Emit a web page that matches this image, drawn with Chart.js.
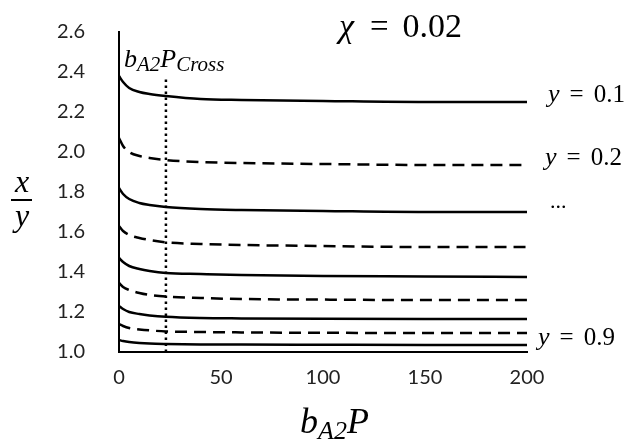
<!DOCTYPE html>
<html>
<head>
<meta charset="utf-8">
<script src="https://cdn.jsdelivr.net/npm/chart.js@4.4.1/dist/chart.umd.min.js"></script>
<style>
  html, body { margin: 0; padding: 0; background: #fff; }
</style>
</head>
<body>
<canvas id="chart" width="632" height="442"></canvas>
<script>
const bP = [0, 2, 5, 10, 15, 23, 40, 60, 100, 150, 200];

// x/y for y = 0.1 ... 0.9 (odd = solid, even = dashed)
const y01 = [2.38, 2.35, 2.32, 2.30, 2.29, 2.28, 2.265, 2.26, 2.255, 2.25, 2.25];
const y02 = [2.07, 2.03, 2.00, 1.98, 1.97, 1.96, 1.95, 1.945, 1.94, 1.935, 1.935];
const y03 = [1.82, 1.79, 1.765, 1.745, 1.735, 1.725, 1.715, 1.71, 1.705, 1.70, 1.70];
const y04 = [1.63, 1.605, 1.585, 1.57, 1.56, 1.548, 1.54, 1.535, 1.53, 1.525, 1.525];
const y05 = [1.47, 1.45, 1.43, 1.415, 1.405, 1.395, 1.39, 1.385, 1.38, 1.378, 1.375];
const y06 = [1.345, 1.325, 1.31, 1.295, 1.285, 1.277, 1.27, 1.265, 1.262, 1.26, 1.26];
const y07 = [1.23, 1.215, 1.20, 1.19, 1.183, 1.176, 1.17, 1.168, 1.166, 1.165, 1.165];
const y08 = [1.14, 1.13, 1.12, 1.113, 1.108, 1.103, 1.10, 1.098, 1.096, 1.095, 1.095];
const y09 = [1.06, 1.055, 1.05, 1.045, 1.042, 1.04, 1.038, 1.037, 1.036, 1.035, 1.035];

// crossing point (dotted vertical line)
const crossX = [23, 23];
const crossY = [1.0, 2.37];

const yTicks = [1.0, 1.2, 1.4, 1.6, 1.8, 2.0, 2.2, 2.4, 2.6];
const xTicks = [0, 50, 100, 150, 200];

const curves = [y01, y02, y03, y04, y05, y06, y07, y08, y09];

function pts(xs, ys) {
    return xs.map((x, i) => ({ x: x, y: ys[i] }));
}

const datasets = curves.map((c, i) => ({
    data: pts(bP, c),
    borderColor: '#000',
    borderWidth: 2.5,
    borderDash: i % 2 === 1 ? [12, 7] : [],
    cubicInterpolationMode: 'monotone',
    pointRadius: 0,
    fill: false
}));
datasets.push({
    data: pts(crossX, crossY),
    borderColor: '#000',
    borderWidth: 2.5,
    borderDash: [2.5, 3.5],
    pointRadius: 0,
    fill: false
});

const mathFont = '"Liberation Serif", "DejaVu Serif", serif';

function drawRuns(ctx, x, y, runs) {
    let cx = x;
    runs.forEach(r => {
        ctx.font = (r.italic ? 'italic ' : '') + r.size + 'px ' + mathFont;
        ctx.fillText(r.t, cx, y + (r.dy || 0));
        cx += ctx.measureText(r.t).width + (r.gap || 0);
    });
}

const mathText = {
    id: 'mathText',
    afterDraw(chart) {
        const ctx = chart.ctx;
        const xs = chart.scales.x, ys = chart.scales.y;
        ctx.save();
        ctx.fillStyle = '#000';
        ctx.textBaseline = 'alphabetic';
        ctx.textAlign = 'left';

        // title
        drawRuns(ctx, 339, 37, [
            { t: 'χ', italic: true, size: 34, gap: 16 },
            { t: '=', size: 33, gap: 14 },
            { t: '0.02', size: 34 }
        ]);

        // curve labels at right end
        const endX = xs.getPixelForValue(200);
        const lab = (txt, curve, dx) => {
            drawRuns(ctx, endX + dx, ys.getPixelForValue(curve[curve.length - 1]), [
                { t: 'y', italic: true, size: 26, gap: 10 },
                { t: '=', size: 25, gap: 10 },
                { t: txt, size: 25 }
            ]);
        };
        lab('0.1', y01, 21);
        lab('0.2', y02, 18);
        lab('0.9', y09, 11);
        ctx.font = '22px ' + mathFont;
        ctx.fillText('...', endX + 23, ys.getPixelForValue(y03[y03.length - 1]) - 4);

        // crossing label
        drawRuns(ctx, 124, 67, [
            { t: 'b', italic: true, size: 26 },
            { t: 'A2', italic: true, size: 21, dy: 4 },
            { t: 'P', italic: true, size: 26 },
            { t: 'Cross', italic: true, size: 21, dy: 4 }
        ]);

        // x axis title
        drawRuns(ctx, 300, 433, [
            { t: 'b', italic: true, size: 36 },
            { t: 'A2', italic: true, size: 26, dy: 6 },
            { t: 'P', italic: true, size: 36 }
        ]);

        // y axis title (fraction x / y)
        ctx.textAlign = 'center';
        ctx.font = 'italic 32px ' + mathFont;
        ctx.fillText('x', 22, 192);
        ctx.fillText('y', 22, 226);
        ctx.fillRect(11, 199, 21, 2);
        ctx.restore();
    }
};

new Chart(document.getElementById('chart'), {
    type: 'line',
    data: { datasets: datasets },
    options: {
        responsive: false,
        animation: false,
        layout: { padding: { left: 0, top: 32, right: 105, bottom: 0 } },
        plugins: { legend: { display: false }, tooltip: { enabled: false } },
        scales: {
            x: {
                type: 'linear',
                min: 0,
                max: 200,
                afterBuildTicks: s => { s.ticks = xTicks.map(v => ({ value: v })); },
                afterFit: s => { s.height = 90; },
                grid: { display: false, drawTicks: true, tickLength: 14 },
                border: { display: true, color: '#000', width: 2 },
                ticks: { color: '#222', padding: 0, font: { family: 'Lato, "Open Sans", sans-serif', size: 20 } }
            },
            y: {
                min: 1.0,
                max: 2.6,
                afterBuildTicks: s => { s.ticks = yTicks.map(v => ({ value: v })); },
                afterFit: s => { s.width = 119; },
                grid: { display: false, drawTicks: true, tickLength: 34 },
                border: { display: true, color: '#000', width: 2 },
                ticks: {
                    color: '#222',
                    padding: 0,
                    font: { family: 'Lato, "Open Sans", sans-serif', size: 20 },
                    callback: v => v.toFixed(1)
                }
            }
        }
    },
    plugins: [mathText]
});
</script>
</body>
</html>
